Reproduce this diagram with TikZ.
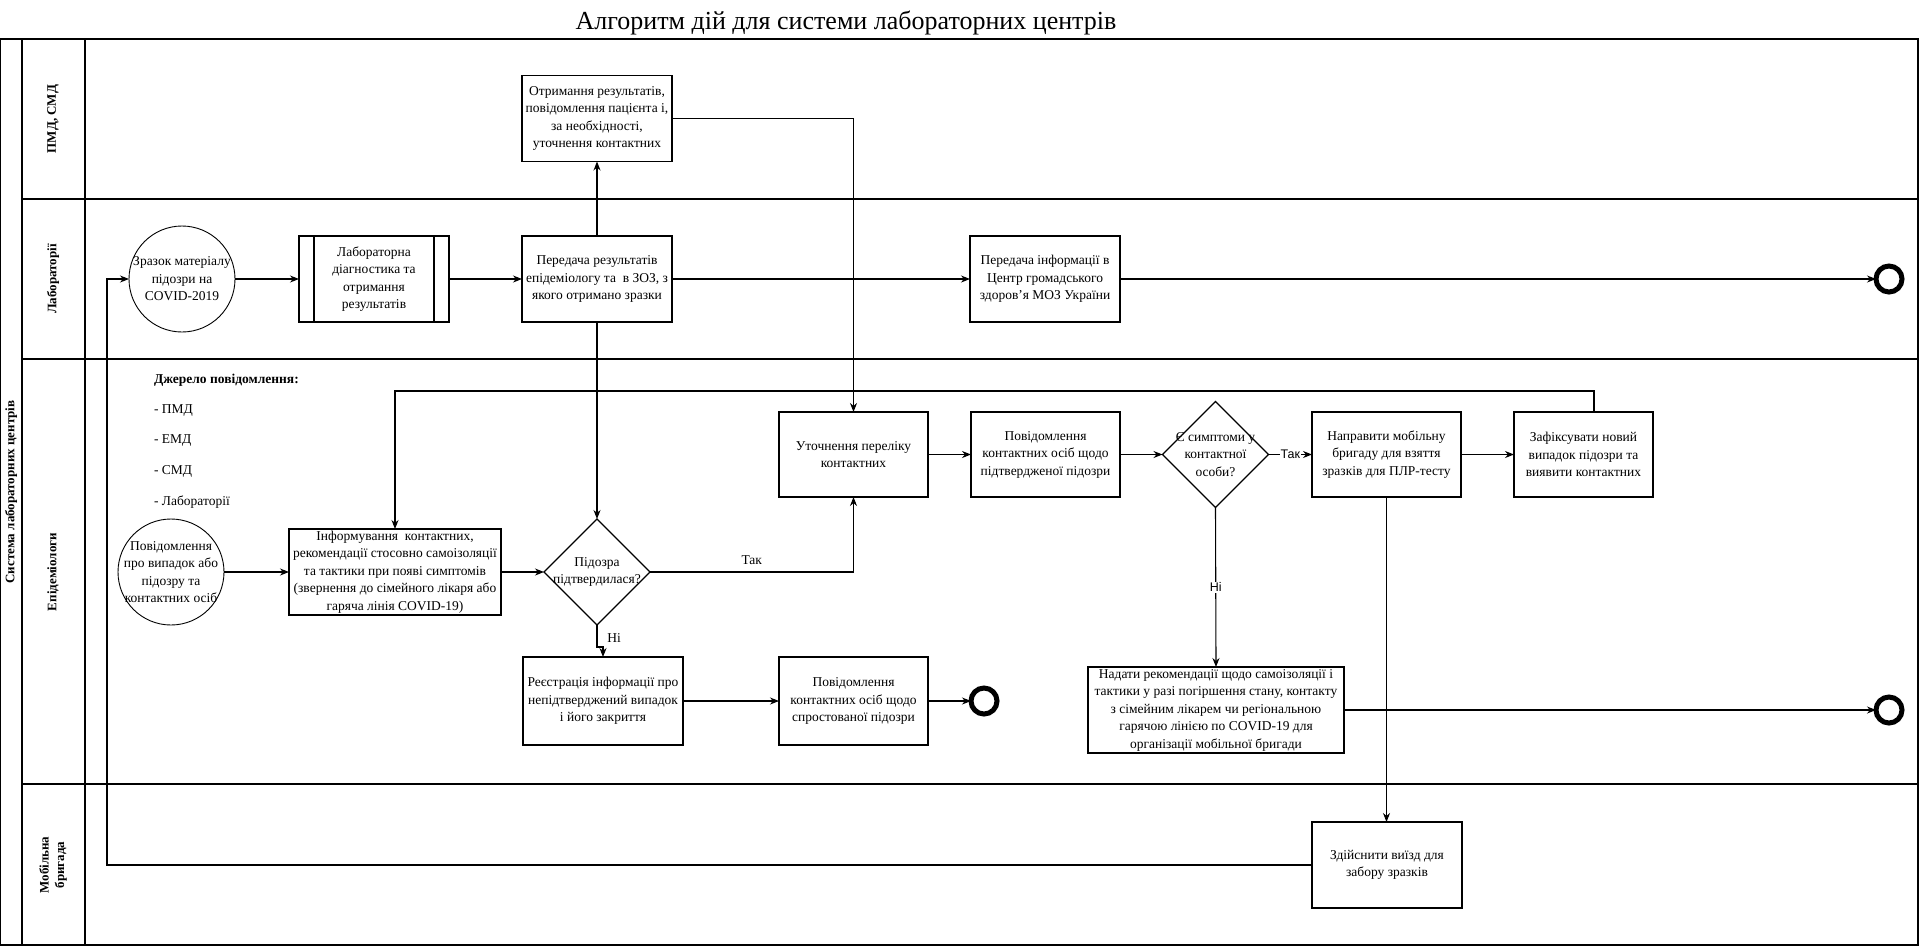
\documentclass[tikz,border=0pt]{standalone}
\usepackage{fontspec}
\setmainfont{Liberation Serif}
\newfontfamily\sansf{Liberation Sans}
\usetikzlibrary{shapes.geometric, arrows.meta, calc}
\begin{document}
\begin{tikzpicture}[x=1pt, y=-1pt,
  every node/.style={inner sep=0pt, outer sep=0pt},
  txt/.style={font=\fontsize{13.5}{17.5}\selectfont, align=center},
  box/.style={draw, line width=1.1pt, rectangle, txt, minimum height=86pt, minimum width=150pt},
  conn/.style={line width=1.1pt, -{Stealth[length=9pt,width=7pt]}},
  thinconn/.style={line width=0.8pt, -{Stealth[length=9pt,width=7pt]}},
  plain/.style={line width=1.1pt},
  pool/.style={draw, line width=1.3pt},
  endev/.style={circle, draw, line width=5pt, minimum size=26pt},
  startev/.style={circle, draw, line width=0.9pt, minimum size=106pt},
  dec/.style={diamond, draw, line width=1.1pt, minimum width=106pt, minimum height=106pt},
  lanelab/.style={font=\bfseries\fontsize{13}{15.5}\selectfont, rotate=90, align=center},
  lbl/.style={font=\fontsize{13.5}{16}\selectfont},
  slbl/.style={font=\sansf\fontsize{12.5}{15}\selectfont, fill=white, inner sep=1pt}
]
\useasboundingbox (0,0) rectangle (1920,946);
\fill[white] (0,0) rectangle (1920,946);

% title
\node[font=\fontsize{26}{30}\selectfont] (title) at (846,23) {Алгоритм дій для системи лабораторних центрів};

% pool and lanes
\draw[pool] (0.7,39) rectangle (1918,945);
\draw[pool] (22,39) -- (22,945);
\draw[pool] (85,39) -- (85,945);
\draw[pool] (22,199) -- (1918,199);
\draw[pool] (22,359) -- (1918,359);
\draw[pool] (22,784) -- (1918,784);

\node[lanelab] (pl) at (11,492) {Система лабораторних центрів};
\node[lanelab] (l1) at (53,119) {ПМД, СМД};
\node[lanelab] (l2) at (53,279) {Лабораторії};
\node[lanelab] (l3) at (53,572) {Епідеміологи};
\node[lanelab] (l4) at (53,865) {Мобільна\\бригада};

% PMD lane
\node[box] (otr) at (597,118.5) {Отримання результатів,\\повідомлення пацієнта і,\\за необхідності,\\уточнення контактних};

% Lab lane
\node[startev] (zrazok) at (182,279) {};
\node[txt] (zrazokt) at (zrazok) {Зразок матеріалу\\підозри на\\COVID-2019};
\node[box] (lab) at (374,279) {Лабораторна\\діагностика та\\отримання\\результатів};
\draw[plain] ([xshift=15pt]lab.north west) -- ([xshift=15pt]lab.south west);
\draw[plain] ([xshift=-15pt]lab.north east) -- ([xshift=-15pt]lab.south east);
\node[box] (pered) at (597,279) {Передача результатів\\епідеміологу та\ \ в ЗОЗ, з\\якого отримано зразки};
\node[box] (cgz) at (1045,279) {Передача інформації в\\Центр громадського\\здоров'я МОЗ України};
\node[endev] (end1) at (1889,279) {};

% Epid lane
\node[font=\bfseries\fontsize{13.5}{16}\selectfont, anchor=west] (src) at (154,380) {Джерело повідомлення:};
\node[lbl, anchor=west] (s1) at (154,411) {- ПМД};
\node[lbl, anchor=west] (s2) at (154,441) {- ЕМД};
\node[lbl, anchor=west] (s3) at (154,471) {- СМД};
\node[lbl, anchor=west] (s4) at (154,502) {- Лабораторії};

\node[startev] (povid) at (171,572) {};
\node[txt] (povidt) at (povid) {Повідомлення\\про випадок або\\підозру та\\контактних осіб};
\node[box, minimum width=212pt] (inf) at (395,572) {Інформування\ \ контактних,\\рекомендації стосовно самоізоляції\\та тактики при появі симптомів\\(звернення до сімейного лікаря або\\гаряча лінія COVID-19)};
\node[dec] (d1) at (597,572) {};
\node[txt] (d1t) at (d1) {Підозра\\підтвердилася?};
\node[box, minimum width=149pt, minimum height=85pt] (utoch) at (853.5,454.5) {Уточнення переліку\\контактних};
\node[box, minimum width=149pt, minimum height=85pt] (povpid) at (1045.5,454.5) {Повідомлення\\контактних осіб щодо\\підтвердженої підозри};
\node[dec] (d2) at (1215.5,454.5) {};
\node[txt] (d2t) at (d2) {Є симптоми у\\контактної\\особи?};
\node[box, minimum width=149pt, minimum height=85pt] (naprav) at (1386.5,454.5) {Направити мобільну\\бригаду для взяття\\зразків для ПЛР-тесту};
\node[box, minimum width=139pt, minimum height=85pt] (zafix) at (1583.5,454.5) {Зафіксувати новий\\випадок підозри та\\виявити контактних};
\node[box, minimum width=160pt, minimum height=88pt] (reestr) at (603,701) {Реєстрація інформації про\\непідтверджений випадок\\і його закриття};
\node[box, minimum width=149pt, minimum height=88pt] (sprost) at (853.5,701) {Повідомлення\\контактних осіб щодо\\спростованої підозри};
\node[endev] (end2) at (984,701) {};
\node[box, minimum width=256pt] (nadaty) at (1216,710) {Надати рекомендації щодо самоізоляції і\\тактики у разі погіршення стану, контакту\\з сімейним лікарем чи регіональною\\гарячою лінією по COVID-19 для\\організації мобільної бригади};
\node[endev] (end3) at (1889,710) {};

% Mobile lane
\node[box] (zdiysn) at (1387,865) {Здійснити виїзд для\\забору зразків};

% helper coordinates
\coordinate (loopR) at (1594,391);
\coordinate (loopL) at (395,391);
\coordinate (fb) at (107,865);

% connectors
\draw[conn] (zrazok.east) -- (lab.west);
\draw[conn] (lab.east) -- (pered.west);
\draw[conn] (pered.east) -- (cgz.west);
\draw[conn] (cgz.east) -- (end1.west);
\draw[conn] (pered.north) -- (otr.south);
\draw[conn] (otr.east) -| (utoch.north);
\draw[conn] (pered.south) -- (d1.north);
\draw[conn] (povid.east) -- (inf.west);
\draw[conn] (inf.east) -- (d1.west);
\draw[conn] (d1.east) -| node[pos=0.25, above=7pt, lbl] (tak1) {Так} (utoch.south);
\draw[conn] (d1.south) -- ++(0,22) -| (reestr.north);
\node[lbl] (ni1) at (614,638) {Ні};
\draw[conn] (reestr.east) -- (sprost.west);
\draw[conn] (sprost.east) -- (end2.west);
\draw[conn] (utoch.east) -- (povpid.west);
\draw[conn] (povpid.east) -- (d2.west);
\draw[conn] (d2.east) -- node[slbl] (tak2) {Так} (naprav.west);
\draw[conn] (naprav.east) -- (zafix.west);
\draw[conn] (zafix.north -| loopR) -- (loopR) -- (loopL) -- (inf.north);
\draw[conn] (d2.south) -- node[slbl] (ni2) {Ні} (nadaty.north);
\draw[conn] (nadaty.east) -- (end3.west);
\draw[thinconn] (naprav.south) -- (naprav.south |- zdiysn.north);
\draw[conn] (zdiysn.west) -- (fb) |- (zrazok.west);
\end{tikzpicture}
\end{document}
